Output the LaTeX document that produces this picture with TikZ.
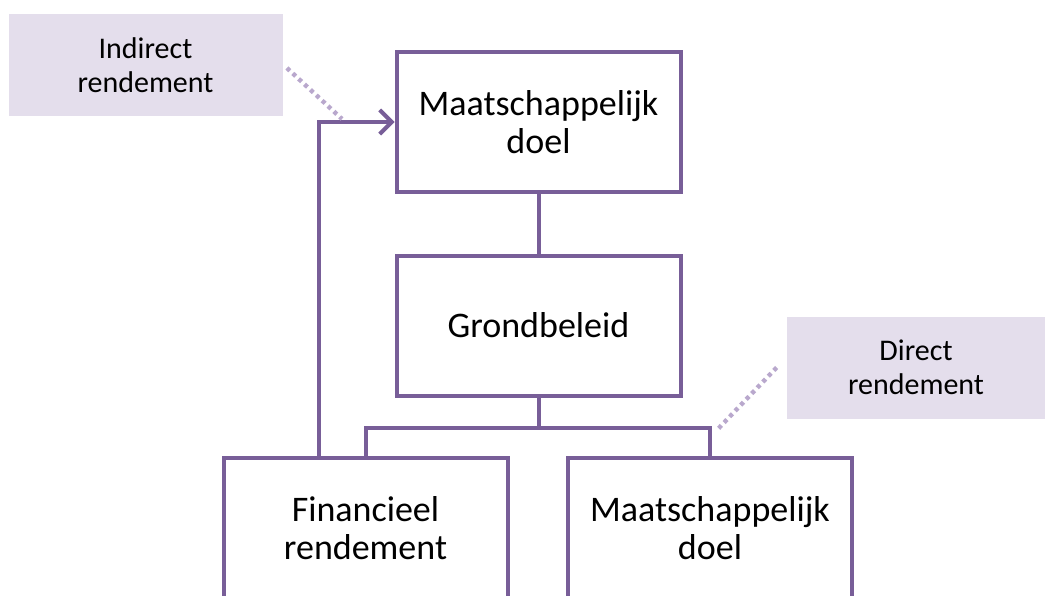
\documentclass[tikz,border=0pt]{standalone}
\usepackage{fontspec}
\setmainfont{Carlito}
\usetikzlibrary{arrows.meta,positioning,calc}
\definecolor{boxpurple}{RGB}{120,94,152}
\definecolor{notefill}{RGB}{228,222,236}
\definecolor{dotpurple}{RGB}{185,168,205}

\begin{document}
\begin{tikzpicture}[x=0.5pt,y=-0.5pt,
  main node/.style={rectangle,draw=boxpurple,line width=2pt,minimum width=142pt,minimum height=70pt,align=center,font=\fontsize{18}{19}\selectfont},
  note node/.style={rectangle,fill=notefill,minimum width=137pt,minimum height=51pt,align=center,font=\fontsize{15}{17}\selectfont},
  conn/.style={draw=boxpurple,line width=2pt},
  dots/.style={draw=dotpurple,line width=2.2pt,dash pattern=on 2pt off 2pt}]
\useasboundingbox (0,0) rectangle (1045,595);
\clip (0,0) rectangle (1045,595);
\fill[white] (0,0) rectangle (1045,595);
% boxes
\node[main node] (doel) at (538.5,122) {Maatschappelijk\\doel};
\node[main node] (grond) at (538.5,325.5) {Grondbeleid};
\node[main node] (fin) at (365.5,528) {Financieel\\rendement};
\node[main node] (mdoel) at (710,528) {Maatschappelijk\\doel};
% notes
\node[note node] (indirect) at (145.5,65) {Indirect\\rendement};
\node[note node,minimum width=129pt] (direct) at (916,367.5) {Direct\\rendement};
% connectors
\draw[conn] (doel) -- (grond);
\draw[conn] (grond.south) -- ++(0,30) coordinate (split);
\draw[conn] (split) -| (fin.north);
\draw[conn] (split) -| (mdoel.north);
\draw[conn,-{Straight Barb[length=6pt,width=12pt]}] ([xshift=-23.5pt]fin.north) |- (doel.west);
% note pointers
\coordinate (ind end) at (342,119);
\coordinate (dir end) at (717,430);
\draw[dots] ([shift={(2pt,-1.5pt)}]indirect.east) -- (ind end);
\draw[dots] ([xshift=-5pt]direct.west) -- (dir end);
\end{tikzpicture}
\end{document}
